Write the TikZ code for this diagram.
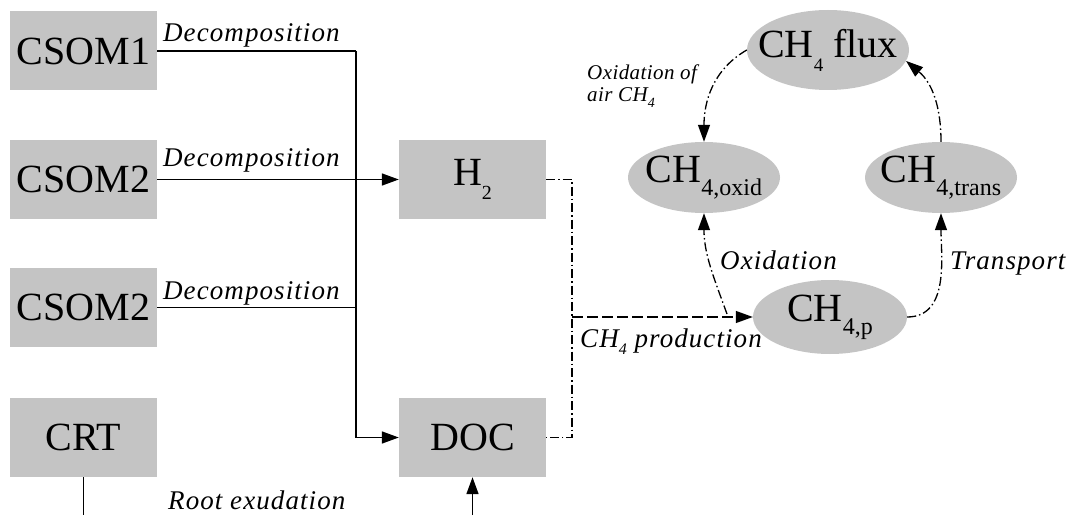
\documentclass[tikz,border=0pt]{standalone}
\usepackage{fontspec}
\setmainfont{Liberation Serif}
\newfontfamily\labfont[LetterSpace=4]{Liberation Serif}
\newfontfamily\labfontb[LetterSpace=2]{Liberation Serif}
\usetikzlibrary{arrows.meta,shapes.geometric}
\definecolor{boxgray}{RGB}{196,196,196}
\newcommand\lsub[3]{\raisebox{-#1}{\fontsize{#2}{#2}\selectfont #3}}
\tikzset{
  box/.style={fill=boxgray, minimum width=147pt, minimum height=79pt, inner sep=0pt,
    font=\fontsize{40}{44}\selectfont},
  oval/.style={ellipse, fill=boxgray, inner sep=0pt, font=\fontsize{40}{44}\selectfont},
  lab/.style={font=\labfont\itshape\fontsize{27}{30}\selectfont, inner sep=0pt, anchor=base west},
  flow/.style={line width=1.6pt},
  tip/.style={-{Triangle[length=17pt,width=12pt]}},
  dashdot/.style={line width=1.3pt, dash pattern=on 9pt off 3pt on 1.5pt off 3pt},
  longdash/.style={line width=1.3pt, dash pattern=on 11pt off 4pt},
}
\begin{document}
\begin{tikzpicture}[x=1pt,y=1pt]
\useasboundingbox (0,0) rectangle (1069,515);
% boxes
\node[box] (c1) at (83.5,464) {CSOM1};
\node[box] (c2) at (83.5,335.5) {CSOM2};
\node[box] (c3) at (83.5,207.5) {CSOM2};
\node[box] (crt) at (83.5,77.5) {CRT};
\node[box] (h2) at (472.5,335.5) {H\lsub{14pt}{20}{2}};
\node[box] (doc) at (472.5,77.5) {DOC};
% ellipses
\node[oval, minimum width=162pt, minimum height=80pt] (flux) at (828,465)
  {\makebox[0pt]{CH\lsub{14pt}{19}{4} flux}};
\node[oval, minimum width=152pt, minimum height=71pt] (oxid) at (704,337.5)
  {\makebox[0pt]{CH\lsub{13pt}{24}{4,oxid}}};
\node[oval, minimum width=152pt, minimum height=71pt] (trans) at (941,337.5)
  {\makebox[0pt]{CH\lsub{13pt}{24}{4,trans}}};
\node[oval, minimum width=154pt, minimum height=74pt] (p) at (830,198)
  {\makebox[0pt]{CH\lsub{13pt}{24}{4,p}}};
% coordinates
\coordinate (j) at (356,464);
\coordinate (vx) at (572,0);
\coordinate (crtout) at (83.5,0);
\coordinate (docin) at (472.5,0);
\coordinate (ox0) at (727,201);
% solid flows
\draw[flow] (c1.east) -- (j);
\draw[flow,tip] (j) |- (doc.west);
\draw[flow,tip] (c2.east) -- (h2.west);
\draw[flow] (c3.east) -- (c3.east -| j);
\draw[flow] (crt.south) -- (crtout);
\draw[flow,tip] (docin) -- (doc.south);
% methane production
\draw[dashdot] (h2.east) -| (vx |- doc.east) -- (doc.east);
\draw[longdash,tip] (vx |- p.west) -- (p.west);
% methane cycle
\draw[dashdot,tip] (flux.west) to[out=210,in=90] (oxid.north);
\draw[dashdot,tip] (trans.north) to[out=90,in=-40] (flux.-8);
\draw[dashdot,tip] (ox0) to[out=110,in=-90] (oxid.south);
\draw[dashdot,tip] (p.east) to[out=0,in=-90] (trans.south);
% labels
\node[lab] (l1) at (163,473) {Decomposition};
\node[lab] (l2) at (163,348) {Decomposition};
\node[lab] (l3) at (163,215) {Decomposition};
\node[lab] (lroot) at (168,6) {Root exudation};
\node[lab] (lprod) at (580,168) {CH\lsub{7pt}{16}{4} production};
\node[lab] (lox) at (720,245) {Oxidation};
\node[lab] (ltr) at (950,245) {Transport};
\node[font=\labfontb\itshape\fontsize{21}{22}\selectfont, inner sep=0pt, anchor=north west, align=left]
  (lair) at (587,450) {Oxidation of\\air CH\lsub{6pt}{14}{4}};
\end{tikzpicture}
\end{document}
